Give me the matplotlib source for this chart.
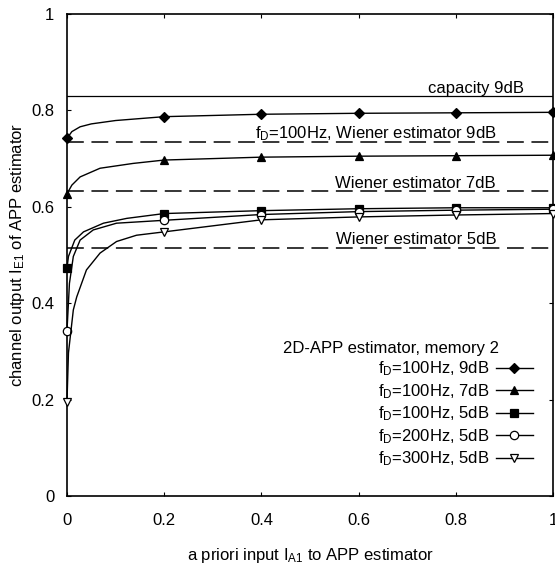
import matplotlib
matplotlib.use('Agg')
import matplotlib.pyplot as plt
import numpy as np

plt.rcParams['font.family'] = ['Liberation Sans', 'DejaVu Sans']
plt.rcParams['mathtext.default'] = 'regular'

# curves (dense near 0 where they bend, markers at 0, 0.2, ... 1)
x_9db = [0, 0.01, 0.027, 0.05, 0.1, 0.2, 0.4, 0.6, 0.8, 1.0]
y_9db = [0.742, 0.756, 0.766, 0.772, 0.779, 0.787, 0.792, 0.794, 0.795, 0.796]

x_7db = [0, 0.01, 0.027, 0.068, 0.136, 0.2, 0.4, 0.6, 0.8, 1.0]
y_7db = [0.627, 0.645, 0.662, 0.680, 0.690, 0.697, 0.703, 0.705, 0.706, 0.707]

x_5db = [0, 0.003, 0.016, 0.034, 0.075, 0.123, 0.2, 0.4, 0.6, 0.8, 1.0]
y_5db = [0.473, 0.497, 0.531, 0.548, 0.566, 0.576, 0.586, 0.592, 0.596, 0.598, 0.598]

x_200 = [0, 0.005, 0.013, 0.027, 0.054, 0.102, 0.2, 0.4, 0.6, 0.8, 1.0]
y_200 = [0.343, 0.441, 0.497, 0.531, 0.552, 0.566, 0.572, 0.584, 0.590, 0.593, 0.595]

x_300 = [0, 0.003, 0.013, 0.02, 0.04, 0.068, 0.102, 0.143, 0.2, 0.4, 0.6, 0.8, 1.0]
y_300 = [0.196, 0.297, 0.386, 0.413, 0.469, 0.504, 0.528, 0.541, 0.548, 0.573, 0.579, 0.583, 0.586]

capacity_9db = 0.829
wiener_9db = 0.735
wiener_7db = 0.632
wiener_5db = 0.515

series = [
    (x_9db, y_9db, 'D', 'black', r'f$_D$=100Hz, 9dB'),
    (x_7db, y_7db, '^', 'black', r'f$_D$=100Hz, 7dB'),
    (x_5db, y_5db, 's', 'black', r'f$_D$=100Hz, 5dB'),
    (x_200, y_200, 'o', 'white', r'f$_D$=200Hz, 5dB'),
    (x_300, y_300, 'v', 'white', r'f$_D$=300Hz, 5dB'),
]

fig = plt.figure(figsize=(5.55, 5.69), dpi=100)
ax = fig.add_axes([67 / 555, 73 / 569, 486 / 555, 482 / 569])

dash = (0, (11, 5))
ax.axhline(capacity_9db, color='black', lw=0.9)
for yv in (wiener_9db, wiener_7db, wiener_5db):
    ax.axhline(yv, color='black', lw=1.1, linestyle=dash)

for xs, ys, mk, fc, lab in series:
    xs = np.array(xs)
    marks = [i for i, v in enumerate(xs) if np.isclose(v * 5, round(v * 5))]
    ax.plot(xs, ys, color='black', lw=1.0, marker=mk, markevery=marks,
            markersize=6 if mk != 'D' else 5, markerfacecolor=fc,
            markeredgecolor='black', markeredgewidth=0.9, clip_on=False,
            label=lab, zorder=3)

fs = 12
ax.text(0.94, capacity_9db + 0.008, 'capacity 9dB', fontsize=fs, ha='right')
ax.text(0.387, wiener_9db + 0.008, r'f$_D$=100Hz, Wiener estimator 9dB', fontsize=fs)
ax.text(0.551, wiener_7db + 0.008, 'Wiener estimator 7dB', fontsize=fs)
ax.text(0.553, wiener_5db + 0.008, 'Wiener estimator 5dB', fontsize=fs)

ax.text(0.444, 0.307, '2D-APP estimator, memory 2', fontsize=fs, va='center')
ax.legend(loc='lower right', bbox_to_anchor=(0.975, 0.04), frameon=False,
          markerfirst=False, fontsize=fs, handlelength=2.2, handletextpad=0.4,
          labelspacing=0.23, borderpad=0)

ax.set_xlim(0, 1)
ax.set_ylim(0, 1)
ticks = [0, 0.2, 0.4, 0.6, 0.8, 1]
ax.set_xticks(ticks)
ax.set_yticks(ticks)
ax.set_xticklabels(['%g' % t for t in ticks])
ax.set_yticklabels(['%g' % t for t in ticks])
ax.tick_params(direction='in', top=True, right=True, length=3, width=0.8,
               labelsize=12, pad=9)
ax.tick_params(axis='x', pad=12)
for s in ax.spines.values():
    s.set_linewidth(1.2)

ax.set_xlabel(r'a priori input I$_{A1}$ to APP estimator', fontsize=fs, labelpad=13)
ax.set_ylabel(r'channel output I$_{E1}$ of APP estimator', fontsize=fs, labelpad=3)

fig.savefig('out.png', dpi=100)
